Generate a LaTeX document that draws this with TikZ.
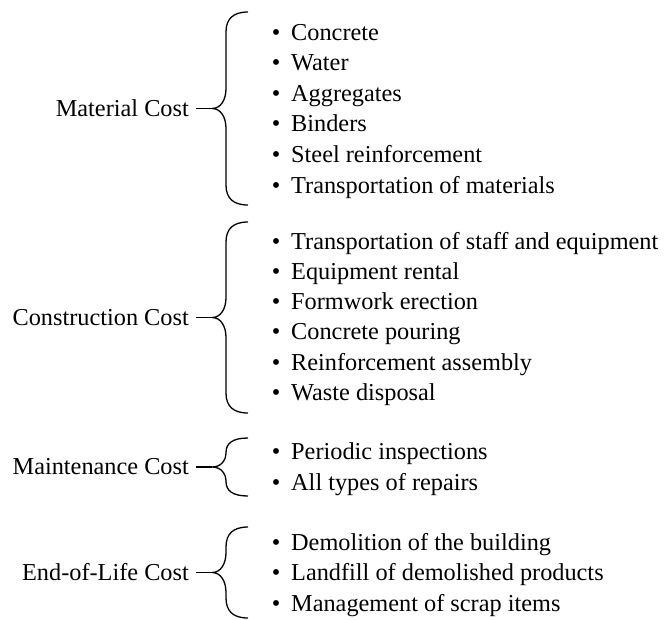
\documentclass[tikz,border=0pt]{standalone}
\usepackage{fontspec}
\setmainfont{Liberation Serif}

\tikzset{
  txt/.style={font=\fontsize{24.3}{29}\selectfont, text=black},
  lbl/.style={txt, anchor=east, inner xsep=7pt, inner ysep=0pt},
  itemtxt/.style={txt, anchor=base west, inner sep=0pt},
  dot/.style={txt, anchor=base, inner sep=0pt},
  brace/.style={line width=1.3pt, line join=round},
  conn/.style={line width=1.3pt},
}

% #1 name, #2 label, #3 brace top, #4 brace bottom,
% #5 first baseline, #6 line step, #7 items
\newcommand{\costgroup}[7]{%
  \pgfmathsetmacro\gmid{(#3+#4)/2}%
  \pgfmathsetmacro\grad{min(20,(#4-#3)/4)}%
  \pgfmathsetmacro\ga{#3+\grad}%
  \pgfmathsetmacro\gb{\gmid-\grad}%
  \pgfmathsetmacro\gc{\gmid+\grad}%
  \pgfmathsetmacro\gd{#4-\grad}%
  \pgfmathsetmacro\gaa{#3+0.35*\grad}%
  \pgfmathsetmacro\gbb{\gmid-0.45*\grad}%
  \pgfmathsetmacro\gcc{\gmid+0.45*\grad}%
  \pgfmathsetmacro\gdd{#4-0.35*\grad}%
  \coordinate (#1tip) at (212,\gmid);
  \node[lbl] (#1) at (196,\gmid) {#2};
  \draw[brace] (248,#3) .. controls (233,#3) and (226,\gaa) .. (226,\ga)
    -- (226,\gb) .. controls (226,\gbb) and (221,\gmid) .. (#1tip)
    .. controls (221,\gmid) and (226,\gcc) .. (226,\gc)
    -- (226,\gd) .. controls (226,\gdd) and (233,#4) .. (248,#4);
  \draw[conn] (#1.east) -- (#1tip);
  \foreach \t [count=\i] in {#7} {
    \pgfmathsetmacro\yb{#5+#6*(\i-1)}
    \node[dot] (#1b\i) at (276,\yb) {•};
    \node[itemtxt] (#1i\i) at (291,\yb) {\t};
  }
}

\begin{document}
\begin{tikzpicture}[x=1pt, y=-1pt]
  \useasboundingbox (0,0) rectangle (671,619);

  \costgroup{mat}{Material Cost}{12}{205}{40}{30.6}%
    {Concrete, Water, Aggregates, Binders, Steel reinforcement, Transportation of materials}

  \costgroup{con}{Construction Cost}{222}{413}{249}{30.3}%
    {Transportation of staff and equipment, Equipment rental, Formwork erection, Concrete pouring, Reinforcement assembly, Waste disposal}

  \costgroup{mnt}{Maintenance Cost}{438}{496}{459}{31}%
    {Periodic inspections, All types of repairs}

  \costgroup{eol}{End-of-Life Cost}{527}{618}{550}{30.5}%
    {Demolition of the building, Landfill of demolished products, Management of scrap items}
\end{tikzpicture}
\end{document}
